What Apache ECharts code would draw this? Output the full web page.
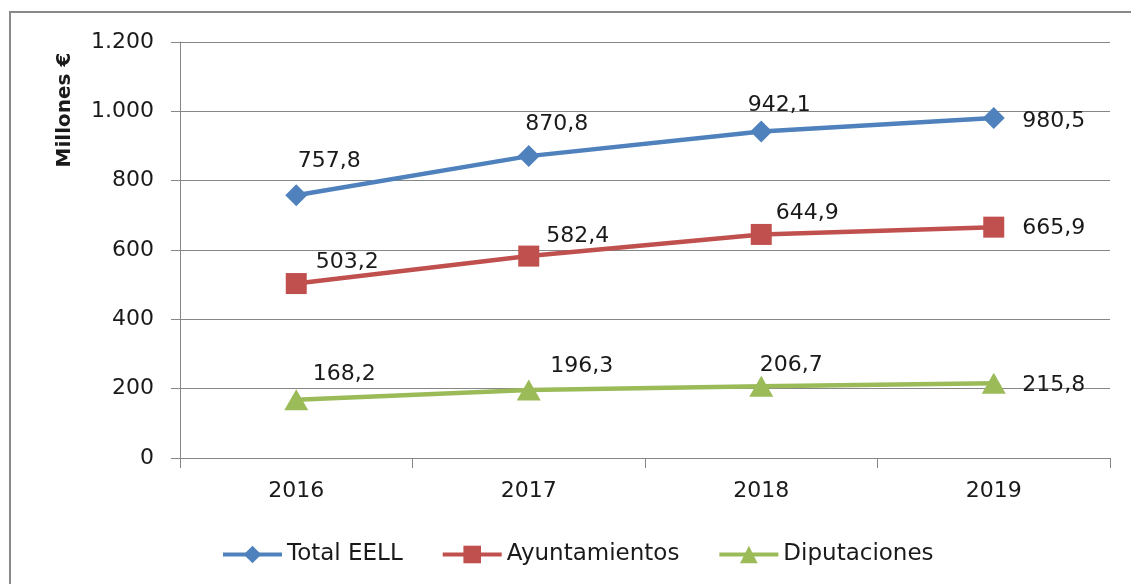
<!DOCTYPE html>
<html>
<head>
<meta charset="utf-8">
<script src="https://cdn.jsdelivr.net/npm/echarts@6/dist/echarts.min.js"></script>
<style>html,body{margin:0;padding:0;background:#fff;}#c{width:1131px;height:584px;}</style>
</head>
<body>
<div id="c"></div>
<script>
const categories = ['2016', '2017', '2018', '2019'];
const totalEELL = [757.8, 870.8, 942.1, 980.5];
const ayuntamientos = [503.2, 582.4, 644.9, 665.9];
const diputaciones = [168.2, 196.3, 206.7, 215.8];
const seriesNames = ['Total EELL', 'Ayuntamientos', 'Diputaciones'];
const yTicks = [0, 200, 400, 600, 800, 1000, 1200];

const FONT = 'DejaVu Sans';
const TXT = '#1a1a1a';
const GRAY = '#868686';

function fmtDec(v) { return v.toFixed(1).replace('.', ','); }
function fmtThousand(v) { return String(v).replace(/\B(?=(\d{3})+(?!\d))/g, '.'); }

function mk(name, vals, color, symbol, size, offs) {
  return {
    type: 'line', name: name, symbol: symbol, symbolSize: size,
    data: vals.map((v, i) => ({ value: v, label: { offset: offs[i] } })),
    lineStyle: { color: color, width: 4.5 },
    itemStyle: { color: color },
    emphasis: { disabled: true },
    z: 3,
    label: {
      show: true, position: 'inside', color: TXT, fontFamily: FONT, fontSize: 22,
      formatter: p => fmtDec(p.value)
    }
  };
}

const chart = echarts.init(document.getElementById('c'));
chart.setOption({
  animation: false,
  backgroundColor: '#fff',
  grid: { left: 180, right: 21, top: 42, bottom: 126 },
  graphic: [
    { type: 'rect', shape: { x: 10, y: 12, width: 1300, height: 800 }, style: { fill: null, stroke: '#898989', lineWidth: 2 }, silent: true },
    { type: 'text', x: 65, y: 110, rotation: Math.PI / 2,
      style: { text: 'Millones €', fontFamily: FONT, fontWeight: 'bold', fontSize: 20, fill: TXT, align: 'center', verticalAlign: 'middle' } }
  ],
  legend: {
    left: 216, top: 538, itemWidth: 59, itemHeight: 22, itemGap: 38, itemTextGap: 6,
    data: seriesNames,
    lineStyle: { width: 4 },
    textStyle: { fontFamily: FONT, fontSize: 23, color: TXT }
  },
  xAxis: {
    type: 'category', data: categories, boundaryGap: true,
    axisLine: { lineStyle: { color: GRAY, width: 1 } },
    axisTick: { show: true, length: 10, lineStyle: { color: GRAY } },
    axisLabel: { margin: 22, fontFamily: FONT, fontSize: 22, color: TXT }
  },
  yAxis: {
    type: 'value', min: yTicks[0], max: yTicks[yTicks.length - 1], interval: 200,
    axisLine: { show: true, lineStyle: { color: GRAY, width: 1 } },
    axisTick: { show: true, length: 9, lineStyle: { color: GRAY } },
    splitLine: { lineStyle: { color: GRAY, width: 1 } },
    axisLabel: { margin: 26, fontFamily: FONT, fontSize: 22, color: TXT, formatter: v => fmtThousand(v) }
  },
  series: [
    mk(seriesNames[0], totalEELL, '#4F81BD', 'diamond', 22, [[33, -34], [28, -32], [18, -26], [60, 3]]),
    mk(seriesNames[1], ayuntamientos, '#C0504D', 'rect', 21, [[51, -21], [49, -20], [46, -21], [60, 1]]),
    mk(seriesNames[2], diputaciones, '#9BBB59', 'triangle', [24, 21], [[48, -25], [53, -24], [30, -21], [60, 2]])
  ]
});
</script>
</body>
</html>
